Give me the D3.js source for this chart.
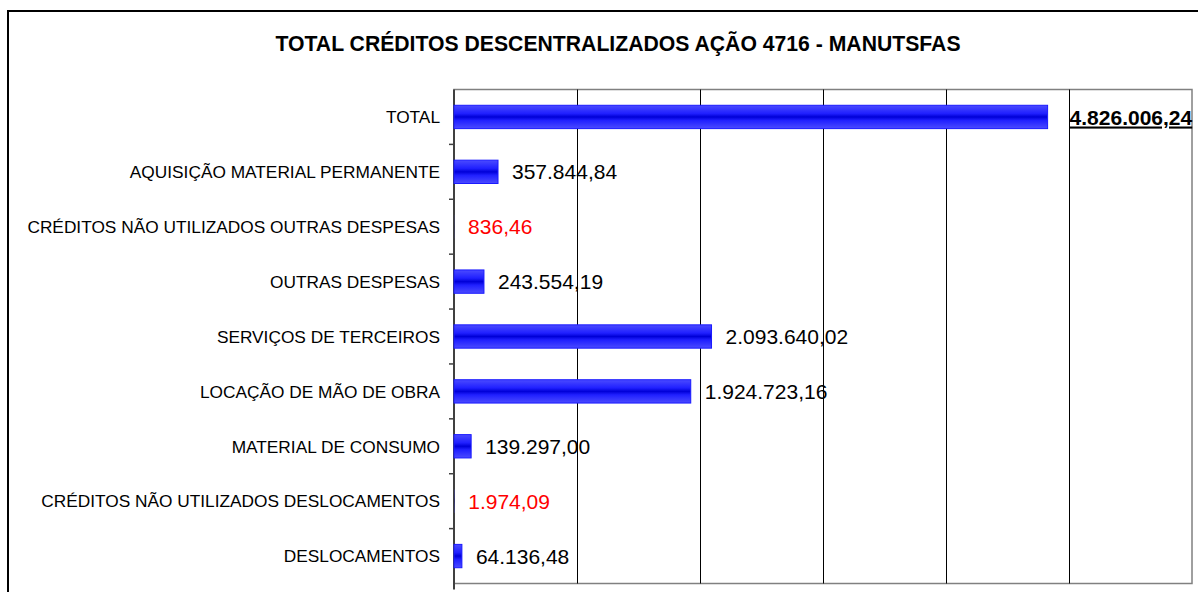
<!DOCTYPE html>
<html>
<head>
<meta charset="utf-8">
<script src="https://cdn.jsdelivr.net/npm/d3@7"></script>
<style>
  body { margin: 0; background: #fff; }
  svg { display: block; font-family: "Liberation Sans", Arial, sans-serif; }
</style>
</head>
<body>
<svg id="drawing_region"></svg>
<script>
const categories = [
    'TOTAL',
    'AQUISIÇÃO MATERIAL PERMANENTE',
    'CRÉDITOS NÃO UTILIZADOS OUTRAS DESPESAS',
    'OUTRAS DESPESAS',
    'SERVIÇOS DE TERCEIROS',
    'LOCAÇÃO DE MÃO DE OBRA',
    'MATERIAL DE CONSUMO',
    'CRÉDITOS NÃO UTILIZADOS DESLOCAMENTOS',
    'DESLOCAMENTOS'
];
const values = [4826006.24, 357844.84, 836.46, 243554.19, 2093640.02, 1924723.16, 139297.00, 1974.09, 64136.48];
const xticks = [0, 1000000, 2000000, 3000000, 4000000, 5000000, 6000000];

const data = categories.map((c, i) => ({ label: c, value: values[i] }));

const br = d3.formatLocale({ decimal: ',', thousands: '.', grouping: [3], currency: ['R$', ''] });
const fmt = br.format(',.2f');

const config = {
    width: 1198,
    height: 592,
    margin: { top: 89.5, right: 6, bottom: 8.5, left: 454 },
    title: 'TOTAL CRÉDITOS DESCENTRALIZADOS AÇÃO 4716 - MANUTSFAS'
};

const svg = d3.select('#drawing_region')
    .attr('width', config.width)
    .attr('height', config.height);

// outer frame (cut by the window on the right and bottom)
svg.append('rect')
    .attr('x', 8).attr('y', 11)
    .attr('width', 1300).attr('height', 700)
    .attr('fill', 'none')
    .attr('stroke', '#000')
    .attr('stroke-width', 2);

svg.append('text')
    .attr('x', 618)
    .attr('y', 51)
    .attr('text-anchor', 'middle')
    .style('font-size', '21.2px')
    .style('font-weight', 'bold')
    .text(config.title);

const inner_width = 1192 - config.margin.left;
const inner_height = 583.5 - config.margin.top;

const chart = svg.append('g')
    .attr('transform', `translate(${config.margin.left}, ${config.margin.top})`);

const xscale = d3.scaleLinear()
    .domain([0, d3.max(xticks)])
    .range([0, inner_width]);

const yscale = d3.scaleBand()
    .domain(categories)
    .range([0, inner_height])
    .paddingInner(0.575)
    .paddingOuter(0.2875);

// plot area border
chart.append('rect')
    .attr('x', 0).attr('y', 0)
    .attr('width', inner_width).attr('height', inner_height)
    .attr('fill', 'none')
    .attr('stroke', '#808080')
    .attr('stroke-width', 1.5);

// vertical gridlines
const grid = chart.append('g')
    .attr('transform', `translate(0, ${inner_height})`)
    .call(d3.axisBottom(xscale).tickValues(xticks.slice(1, -1)).tickSize(inner_height).tickFormat(''));
grid.select('.domain').remove();
grid.selectAll('.tick line')
    .attr('y2', -inner_height)
    .attr('stroke', '#000')
    .attr('stroke-width', 1);

// left axis with ticks at band boundaries
const bounds = d3.range(categories.length + 1).map(i => i * yscale.step());
const yaxis_group = chart.append('g');
yaxis_group.append('line')
    .attr('x1', 0).attr('x2', 0)
    .attr('y1', 0).attr('y2', inner_height + 6)
    .attr('stroke', '#404040')
    .attr('stroke-width', 2);
yaxis_group.selectAll('.tk')
    .data(bounds.slice(1, -1))
    .enter().append('line')
    .attr('x1', -5).attr('x2', 0)
    .attr('y1', d => d).attr('y2', d => d)
    .attr('stroke', '#404040')
    .attr('stroke-width', 1.5);

// category labels
chart.selectAll('.cat')
    .data(data)
    .enter().append('text')
    .attr('x', -14)
    .attr('y', d => yscale(d.label) + yscale.bandwidth() / 2)
    .attr('dy', '0.36em')
    .attr('text-anchor', 'end')
    .style('font-size', '17.3px')
    .style('fill', '#000')
    .text(d => d.label);

// bar gradient
const defs = svg.append('defs');
const grad = defs.append('linearGradient')
    .attr('id', 'barfill')
    .attr('x1', 0).attr('y1', 0).attr('x2', 0).attr('y2', 1);
[['0%', '#4b4bff'], ['35%', '#2020ff'], ['50%', '#0000d8'], ['65%', '#2020ff'], ['100%', '#4b4bff']]
    .forEach(s => grad.append('stop').attr('offset', s[0]).attr('stop-color', s[1]));

chart.selectAll('.bar')
    .data(data)
    .enter().append('rect')
    .attr('x', 0)
    .attr('y', d => yscale(d.label))
    .attr('width', d => xscale(d.value))
    .attr('height', yscale.bandwidth())
    .attr('fill', 'url(#barfill)')
    .attr('stroke', d => xscale(d.value) < 1 ? 'none' : '#1a1aff')
    .attr('stroke-width', 1);

// value labels
chart.selectAll('.val')
    .data(data)
    .enter().append('text')
    .attr('x', d => xscale(d.value) + (d.label === 'TOTAL' ? 22 : 14))
    .attr('y', d => yscale(d.label) + yscale.bandwidth() / 2)
    .attr('dy', '0.36em')
    .style('font-size', '21px')
    .style('font-weight', d => d.label === 'TOTAL' ? 'bold' : 'normal')
    .style('text-decoration', d => d.label === 'TOTAL' ? 'underline' : 'none')
    .style('fill', d => d.label.includes('NÃO UTILIZADOS') ? '#ff0000' : '#000')
    .text(d => fmt(d.value));
</script>
</body>
</html>
